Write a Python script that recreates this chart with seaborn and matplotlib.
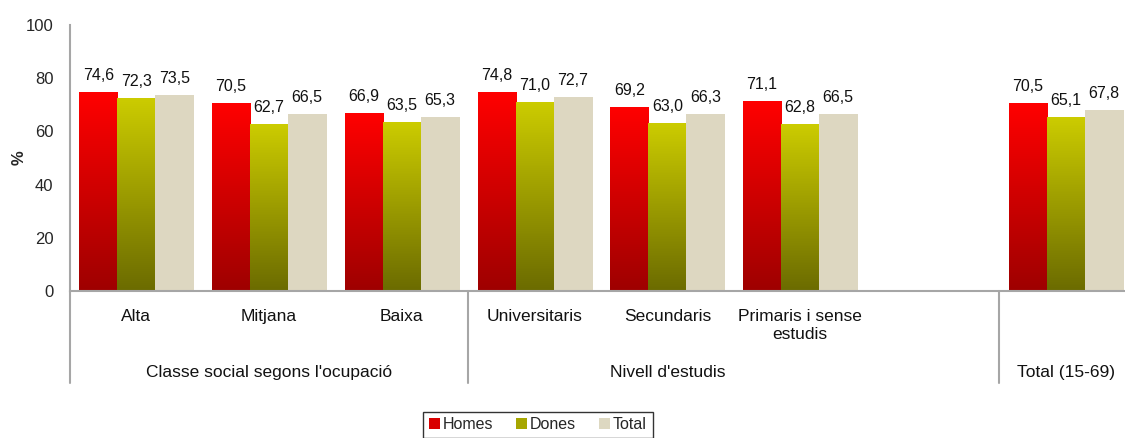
#!/usr/bin/env python3
"""
Percentatge per classe social, nivell d'estudis i sexe.
Grouped bar chart with gradient-filled bars and a two-level category axis.
"""

import numpy as np
import pandas as pd
import matplotlib
matplotlib.use("Agg")
import matplotlib.pyplot as plt
import seaborn as sns
from matplotlib.colors import LinearSegmentedColormap
from matplotlib.patches import Patch
from matplotlib import transforms

# Data
categories = ["Alta", "Mitjana", "Baixa", "Universitaris", "Secundaris",
              "Primaris i sense estudis", "Total (15-69)"]
tick_labels = ["Alta", "Mitjana", "Baixa", "Universitaris", "Secundaris",
               "Primaris i sense\nestudis", "", ""]
group_labels = ["Classe social segons l'ocupació", "Nivell d'estudis", "Total (15-69)"]
homes = [74.6, 70.5, 66.9, 74.8, 69.2, 71.1, 70.5]
dones = [72.3, 62.7, 63.5, 71.0, 63.0, 62.8, 65.1]
total = [73.5, 66.5, 65.3, 72.7, 66.3, 66.5, 67.8]
series = ["Homes", "Dones", "Total"]

# an empty slot sits between the education block and the overall total
order = categories[:6] + [" "] + categories[6:]

sns.set_style("white")
plt.rcParams['font.family'] = ['Liberation Sans', 'DejaVu Sans']
plt.rcParams['font.size'] = 11

df = pd.DataFrame({
    "cat": categories * 3,
    "serie": ["Homes"] * 7 + ["Dones"] * 7 + ["Total"] * 7,
    "valor": homes + dones + total,
})

top_colors = {"Homes": (1.0, 0.0, 0.0), "Dones": (0.80, 0.80, 0.0), "Total": (0.867, 0.847, 0.757)}
bottom_colors = {"Homes": (0.62, 0.0, 0.0), "Dones": (0.42, 0.42, 0.0), "Total": (0.867, 0.847, 0.757)}

fig = plt.figure(figsize=(11.25, 4.38), dpi=100)
ax = fig.add_axes([0.0622, 0.3356, 0.944, 0.607])

sns.barplot(data=df, x="cat", y="valor", hue="serie", order=order,
            hue_order=series, width=0.86, legend=False, ax=ax,
            palette=[top_colors[s] for s in series], saturation=1, errorbar=None)

grad = np.linspace(0, 1, 256).reshape(-1, 1)
for serie, cont in zip(series, ax.containers):
    cmap = LinearSegmentedColormap.from_list(serie, [bottom_colors[serie], top_colors[serie]])
    for bar in cont:
        h = bar.get_height()
        if np.isnan(h):
            continue
        x0 = bar.get_x()
        x1 = x0 + bar.get_width()
        bar.set_visible(False)
        ax.imshow(grad, extent=(x0, x1, 0, h), origin="lower", cmap=cmap,
                  aspect="auto", zorder=2, interpolation="bilinear")
        ax.annotate(f"{h:.1f}".replace(".", ","), (x0 + bar.get_width() / 2, h),
                    xytext=(0, 9), textcoords="offset points",
                    ha="center", va="baseline", fontsize=11.5, color="#111111")

ax.set_xlim(-0.5, 7.5)
ax.set_ylim(0, 100)
ax.set_yticks([0, 20, 40, 60, 80, 100])
ax.tick_params(axis="y", length=0, pad=12, labelsize=12)
ax.set_xticks([])
ax.set_xlabel("")
ax.set_ylabel("%", fontweight="bold", fontsize=12, labelpad=-0.5)

for side in ["top", "right"]:
    ax.spines[side].set_visible(False)
for side in ["left", "bottom"]:
    ax.spines[side].set_color("#a6a6a6")
    ax.spines[side].set_linewidth(1.5)

# two-level category axis
trans = transforms.blended_transform_factory(ax.transData, ax.transAxes)
for i, lab in enumerate(tick_labels):
    ax.text(i, -0.068, lab, transform=trans, ha="center", va="top",
            fontsize=12.5, linespacing=1.25, color="#111111")
for xc, lab in zip([1, 4, 7], group_labels):
    ax.text(xc, -0.305, lab, transform=trans, ha="center", va="center",
            fontsize=12.5, color="#111111")
for xs in [-0.5, 2.5, 6.5]:
    ax.plot([xs, xs], [0, -0.346], transform=trans, color="#a6a6a6",
            lw=1.5, clip_on=False)

handles = [Patch(facecolor=top_colors[s], edgecolor="none") for s in series]
handles[0] = Patch(facecolor=(0.85, 0.0, 0.0), edgecolor="none")
handles[1] = Patch(facecolor=(0.65, 0.65, 0.0), edgecolor="none")
leg = fig.legend(handles, series, loc="upper center", bbox_to_anchor=(0.478, 0.06),
                 ncol=3, frameon=True, fancybox=False, fontsize=11.5,
                 handlelength=0.7, handleheight=0.7, handletextpad=0.2,
                 columnspacing=1.4, borderpad=0.35, borderaxespad=0)
leg.get_frame().set_edgecolor("black")
leg.get_frame().set_linewidth(1.0)

fig.savefig("out.png", dpi=100)
